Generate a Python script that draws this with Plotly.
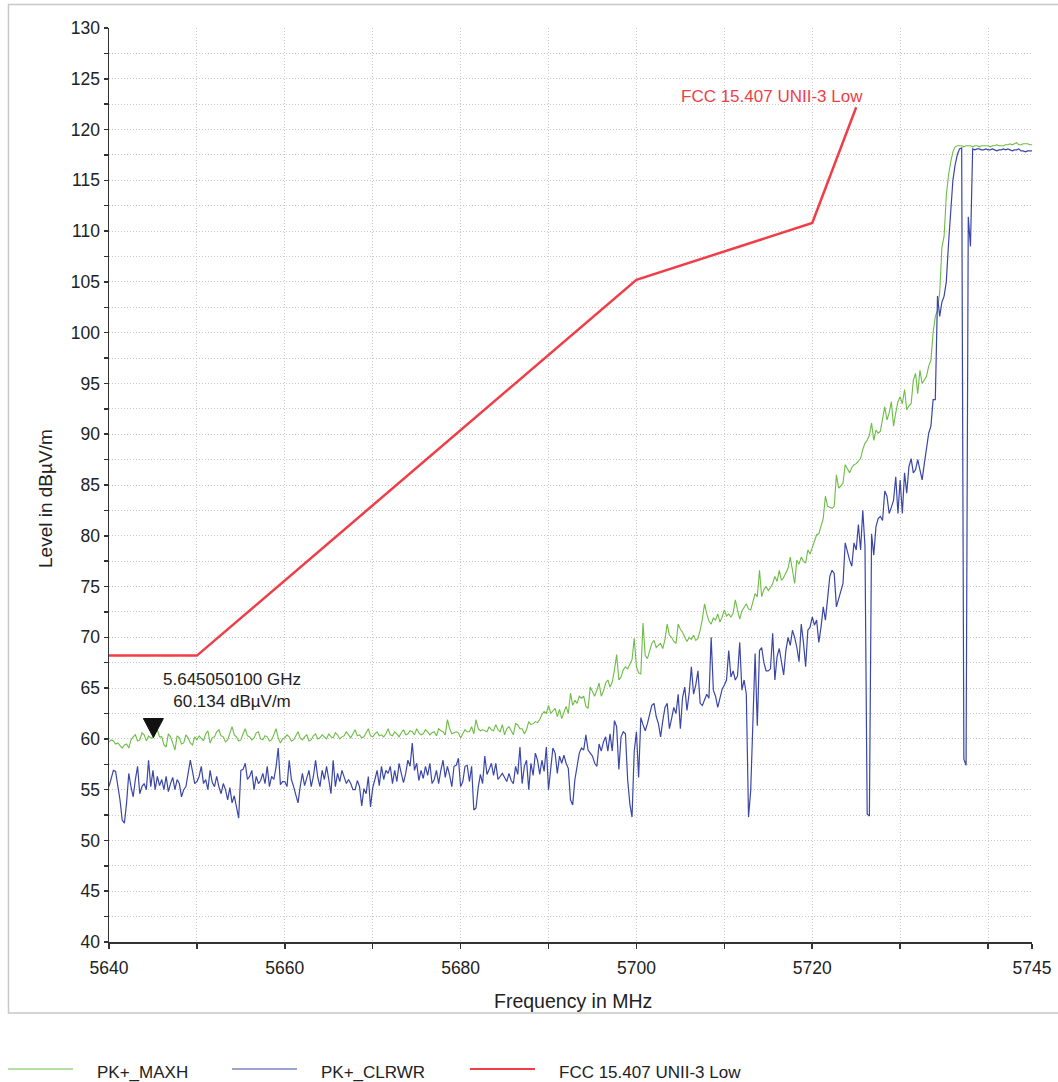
import plotly.graph_objects as go

# ---------------- data ----------------
START_MHZ = 5640.0
STEP_MHZ = 0.25

# PK+_MAXH (green), one row per 5 MHz (20 samples at 0.25 MHz)
maxh_rows = [
    [59.7, 59.9, 59.8, 59.5, 59.6, 59.3, 59.1, 59.4, 59.5, 59.1, 59.9, 60.2, 60.4, 59.8, 59.9, 60.6, 60.4, 59.8, 60.3, 60.1],
    [60.1, 60.6, 60.9, 60.2, 60.2, 59.4, 59.2, 60.5, 60.2, 59.6, 58.9, 60.3, 60.1, 59.5, 59.6, 60.4, 60.1, 59.6, 59.4, 60.2],
    [59.9, 60.3, 60.1, 59.8, 60.5, 60.8, 59.6, 60.1, 60.2, 60.7, 60.9, 60.3, 60.2, 59.7, 59.9, 60.6, 61.2, 60.4, 60.2, 59.8],
    [59.9, 60.5, 61.0, 60.3, 60.2, 59.9, 60.1, 60.6, 60.7, 60.0, 59.9, 60.3, 60.2, 59.8, 59.9, 60.4, 61.0, 60.1, 59.6, 60.0],
    [60.1, 60.4, 60.2, 59.8, 59.9, 60.3, 60.7, 60.1, 59.9, 60.2, 60.4, 59.8, 59.9, 60.3, 60.5, 60.0, 60.1, 60.4, 60.2, 60.0],
    [60.5, 60.2, 60.1, 60.6, 60.4, 60.0, 60.2, 60.3, 60.7, 60.4, 60.1, 60.5, 60.9, 60.3, 60.4, 60.1, 60.2, 60.6, 61.0, 60.3],
    [60.2, 60.5, 60.7, 60.3, 60.4, 60.2, 60.5, 61.0, 60.4, 60.3, 60.7, 60.5, 60.2, 60.6, 60.9, 60.4, 60.5, 60.8, 60.7, 60.4],
    [61.0, 60.6, 60.4, 60.5, 60.9, 60.7, 60.4, 60.6, 60.7, 60.3, 61.0, 60.8, 60.7, 60.4, 61.9, 61.0, 60.5, 60.6, 60.7, 60.6],
    [60.1, 60.5, 60.9, 60.7, 60.7, 61.2, 60.5, 61.9, 61.0, 60.8, 60.9, 60.8, 60.7, 61.2, 60.9, 60.8, 61.4, 60.9, 60.7, 61.4],
    [60.4, 61.0, 61.2, 60.8, 60.4, 61.5, 61.4, 61.0, 61.0, 60.5, 60.9, 61.7, 61.4, 61.5, 61.7, 61.6, 61.9, 62.4, 62.7, 62.5],
    [63.3, 62.5, 62.8, 63.0, 62.2, 62.9, 62.0, 62.6, 63.2, 62.5, 64.5, 63.3, 63.8, 63.5, 64.2, 64.0, 64.2, 63.2, 63.0, 65.1],
    [64.6, 64.2, 64.8, 65.5, 64.2, 64.7, 65.5, 65.8, 65.1, 65.6, 66.8, 68.3, 65.8, 66.1, 66.8, 67.1, 66.9, 67.3, 67.8, 69.9],
    [67.1, 66.5, 66.4, 71.4, 68.2, 67.9, 68.7, 69.4, 69.7, 69.0, 69.2, 69.4, 68.9, 69.8, 71.3, 70.2, 70.0, 69.6, 69.4, 71.3],
    [70.8, 70.5, 70.0, 69.6, 70.0, 69.8, 70.2, 69.7, 69.9, 70.7, 71.8, 73.3, 72.3, 71.6, 71.3, 71.9, 71.7, 72.3, 71.5, 72.0],
    [72.7, 72.1, 72.3, 72.0, 72.4, 73.7, 72.7, 71.8, 72.6, 73.0, 73.3, 72.8, 72.7, 73.5, 74.3, 74.0, 76.6, 74.0, 74.7, 75.0],
    [74.6, 74.9, 75.3, 76.0, 75.5, 76.6, 75.6, 75.9, 76.3, 76.8, 77.9, 76.4, 75.3, 77.6, 77.2, 77.9, 77.5, 77.3, 78.6, 78.2],
    [78.8, 79.3, 80.1, 80.2, 80.9, 81.7, 83.9, 82.9, 82.8, 82.7, 82.9, 86.0, 84.7, 84.9, 85.2, 87.0, 86.6, 86.2, 86.7, 87.0],
    [87.1, 87.3, 87.6, 88.5, 89.1, 89.4, 89.9, 91.1, 89.4, 90.4, 90.1, 90.3, 91.4, 92.7, 91.4, 92.1, 93.2, 90.8, 92.1, 93.2],
    [93.7, 93.0, 94.4, 92.4, 92.8, 93.0, 95.3, 96.0, 94.0, 96.3, 95.0, 95.4, 95.7, 96.7, 97.3, 100.0, 101.6, 102.2, 104.0, 108.4],
    [109.5, 113.5, 115.5, 116.8, 117.8, 118.3, 118.4, 118.4, 118.4, 118.3, 118.4, 118.4, 118.4, 118.3, 118.4, 118.4, 118.3, 118.4, 118.4, 118.4],
    [118.4, 118.3, 118.4, 118.4, 118.5, 118.4, 118.4, 118.4, 118.5, 118.5, 118.6, 118.5, 118.6, 118.7, 118.5, 118.5, 118.6, 118.6, 118.6, 118.5],
    [118.5],
]

# PK+_CLRWR (blue)
clrwr_rows = [
    [55.3, 56.2, 56.9, 56.8, 55.6, 54.0, 52.0, 51.7, 53.7, 56.6, 55.3, 54.3, 56.0, 57.3, 54.6, 55.3, 55.6, 55.0, 57.9, 55.3],
    [56.9, 55.0, 56.3, 55.4, 56.0, 55.0, 56.3, 54.8, 55.6, 56.2, 55.0, 56.0, 55.6, 54.3, 55.0, 55.3, 56.6, 57.9, 56.8, 55.6],
    [55.8, 56.3, 57.3, 55.6, 56.0, 55.0, 56.9, 55.7, 55.3, 56.3, 55.3, 54.6, 55.6, 55.0, 54.0, 55.2, 53.7, 54.4, 53.3, 52.2],
    [56.9, 57.0, 57.6, 56.0, 56.3, 56.9, 55.0, 56.3, 55.6, 55.9, 56.6, 55.6, 57.3, 55.3, 56.3, 56.0, 57.2, 59.1, 55.5, 55.8],
    [55.8, 55.3, 57.9, 56.0, 55.3, 54.5, 53.7, 55.3, 56.6, 55.4, 56.3, 56.9, 55.3, 56.3, 57.9, 56.2, 55.3, 56.9, 56.0, 57.3],
    [56.0, 54.6, 57.9, 55.3, 56.6, 55.8, 56.9, 56.3, 55.6, 56.0, 55.6, 55.0, 55.0, 55.9, 55.3, 53.4, 55.1, 54.6, 56.3, 53.3],
    [55.2, 56.0, 56.9, 55.4, 57.3, 56.0, 56.9, 56.6, 57.3, 55.6, 56.9, 55.8, 57.6, 56.6, 55.7, 56.6, 57.9, 57.3, 59.6, 56.9],
    [57.6, 55.9, 56.9, 56.1, 57.3, 56.4, 57.6, 55.6, 56.0, 56.9, 55.6, 56.9, 57.9, 56.2, 57.3, 56.4, 55.3, 57.3, 57.4, 58.1],
    [55.3, 55.8, 57.3, 57.4, 55.8, 57.3, 53.0, 53.2, 55.2, 56.5, 55.6, 58.3, 56.5, 57.0, 57.6, 56.4, 57.6, 56.0, 56.3, 56.6],
    [56.2, 55.8, 56.6, 55.9, 55.6, 57.3, 56.5, 59.2, 55.6, 57.3, 57.9, 55.0, 57.6, 56.4, 58.6, 57.9, 56.5, 57.9, 56.8, 59.2],
    [55.0, 56.9, 59.1, 58.6, 56.6, 58.3, 57.6, 58.4, 57.6, 57.1, 54.0, 53.5, 56.0, 57.3, 58.6, 59.1, 58.9, 60.4, 58.9, 58.6],
    [58.3, 57.6, 57.3, 59.5, 58.8, 59.7, 60.2, 58.8, 60.5, 58.8, 61.8, 61.2, 57.0, 60.2, 60.7, 60.5, 56.0, 53.6, 52.3, 58.8],
    [60.7, 56.2, 62.1, 61.4, 60.8, 61.5, 62.4, 63.3, 63.5, 62.2, 61.5, 60.2, 61.8, 63.1, 63.5, 61.0, 62.0, 63.1, 62.5, 64.4],
    [61.0, 64.1, 65.1, 62.8, 64.5, 67.1, 64.4, 65.3, 66.7, 63.5, 63.3, 63.8, 64.4, 64.0, 70.0, 64.8, 64.2, 63.1, 64.0, 64.9],
    [65.3, 65.8, 68.7, 66.1, 66.7, 65.8, 66.2, 69.5, 64.8, 65.8, 64.4, 52.3, 54.9, 62.0, 68.4, 61.3, 68.7, 69.0, 67.5, 66.7],
    [66.7, 66.9, 70.4, 65.8, 68.1, 68.9, 67.5, 66.3, 68.7, 70.0, 69.2, 70.7, 70.0, 69.0, 67.6, 71.3, 69.5, 67.1, 70.7, 71.0],
    [72.0, 71.2, 71.7, 69.5, 71.0, 73.0, 71.7, 74.0, 76.0, 76.6, 76.3, 73.0, 73.8, 74.5, 75.3, 79.3, 78.4, 77.6, 77.0, 79.3],
    [78.6, 81.1, 78.6, 82.5, 79.0, 52.6, 52.4, 80.2, 78.1, 80.9, 81.7, 81.9, 81.5, 84.4, 83.9, 82.2, 82.8, 83.5, 85.8, 82.2],
    [85.5, 82.2, 86.2, 84.2, 86.8, 87.6, 86.2, 86.5, 87.5, 86.4, 85.5, 87.1, 88.9, 90.1, 90.8, 93.4, 93.4, 103.6, 101.6, 103.0],
    [103.6, 105.0, 108.7, 112.4, 115.0, 116.5, 117.5, 118.1, 118.2, 58.0, 57.4, 111.4, 108.5, 118.1, 118.0, 118.1, 118.1, 118.0, 118.0, 118.1],
    [118.0, 118.0, 118.1, 118.0, 117.9, 118.0, 118.0, 118.1, 118.0, 118.1, 118.0, 117.9, 118.0, 118.0, 118.1, 117.9, 117.9, 117.8, 117.9, 117.9],
    [117.9],
]

# FCC 15.407 UNII-3 Low limit line
limit_freq = [5640, 5650, 5700, 5720, 5725]
limit_level = [68.2, 68.2, 105.2, 110.8, 122.2]

# marker
marker_freq = 5645.0501
marker_level = 60.134
marker_text = "5.645050100 GHz<br>60.134 dBµV/m"

x_tick_vals = [5640, 5650, 5660, 5670, 5680, 5690, 5700, 5710, 5720, 5730, 5740, 5745]
x_tick_text = ["5640", "", "5660", "", "5680", "", "5700", "", "5720", "", "", "5745"]

maxh = [v for row in maxh_rows for v in row]
clrwr = [v for row in clrwr_rows for v in row]
freq = [START_MHZ + STEP_MHZ * i for i in range(len(maxh))]

# ---------------- style ----------------
GREEN = "#6dbd45"
BLUE = "#3b47a6"
RED = "#ef3e48"
FONT = "Liberation Sans, Arial, sans-serif"
TXT = "#222222"
AX = "#333333"
GRID = "#c8c8c8"

W, H = 1058, 1082
L, R, T, B = 109, 1032, 28, 942
PW, PH = R - L, B - T


def px(xw):
    return (xw - L) / PW


def py(yw):
    return (B - yw) / PH


fig = go.Figure()
fig.add_trace(go.Scatter(x=freq, y=maxh, mode="lines", name="PK+_MAXH",
                         line=dict(color=GREEN, width=1.1), showlegend=False))
fig.add_trace(go.Scatter(x=freq, y=clrwr, mode="lines", name="PK+_CLRWR",
                         line=dict(color=BLUE, width=1.2), showlegend=False))
fig.add_trace(go.Scatter(x=limit_freq, y=limit_level, mode="lines", name="FCC 15.407 UNII-3 Low",
                         line=dict(color=RED, width=2.5), showlegend=False))

shapes = []
# outer frame
shapes.append(dict(type="rect", xref="paper", yref="paper",
                   x0=px(8.5), x1=px(1066), y0=py(1013), y1=py(4.5),
                   line=dict(color="#c8c8c8", width=1.5), fillcolor="rgba(0,0,0,0)", layer="below"))
# marker triangle (tip at the marker position)
shapes.append(dict(type="path", xref="x", yref="y", xsizemode="pixel", ysizemode="pixel",
                   xanchor=marker_freq, yanchor=marker_level,
                   path="M -10 19 L 10 19 L 0 0 Z",
                   fillcolor="#111111", line=dict(color="#111111", width=1)))
# legend keys
legend_items = [("PK+_MAXH", GREEN, 1.2, 8, 73, 95),
                ("PK+_CLRWR", BLUE, 1.2, 232, 297, 319),
                ("FCC 15.407 UNII-3 Low", RED, 2.0, 470, 535, 557)]
annotations = []
for name, col, wd, lx0, lx1, tx in legend_items:
    shapes.append(dict(type="line", xref="paper", yref="paper",
                       x0=px(lx0), x1=px(lx1), y0=py(1069), y1=py(1069),
                       line=dict(color=col, width=wd)))
    annotations.append(dict(xref="paper", yref="paper", x=px(tx), y=py(1072),
                            xanchor="left", yanchor="middle", showarrow=False,
                            text=name, font=dict(family=FONT, size=17, color=TXT)))

# marker label
annotations.append(dict(xref="x", yref="y", x=marker_freq, y=marker_level,
                        xshift=79, yshift=47, xanchor="center", yanchor="middle",
                        showarrow=False, text=marker_text, align="center",
                        font=dict(family=FONT, size=17, color=TXT)))
# limit label
annotations.append(dict(xref="x", yref="y", x=limit_freq[-1], y=limit_level[-1],
                        xshift=9, yshift=11, xanchor="right", yanchor="middle",
                        showarrow=False, text="FCC 15.407 UNII-3 Low",
                        font=dict(family=FONT, size=17, color=RED)))
# axis titles
annotations.append(dict(xref="paper", yref="paper", x=px(573), y=py(1001),
                        xanchor="center", yanchor="middle", showarrow=False,
                        text="Frequency in MHz", font=dict(family=FONT, size=19.5, color=TXT)))
annotations.append(dict(xref="paper", yref="paper", x=px(45), y=py(499),
                        xanchor="center", yanchor="middle", showarrow=False, textangle=-90,
                        text="Level in dBµV/m", font=dict(family=FONT, size=19, color=TXT)))

fig.update_layout(
    width=W, height=H,
    margin=dict(l=L, r=W - R, t=T, b=H - B, pad=0, autoexpand=False),
    paper_bgcolor="white", plot_bgcolor="white",
    font=dict(family=FONT, size=17, color=TXT),
    shapes=shapes, annotations=annotations,
    showlegend=False,
)
fig.update_xaxes(
    range=[5640, 5745], tickmode="array", tickvals=x_tick_vals, ticktext=x_tick_text,
    showline=True, linecolor=AX, linewidth=1.5, mirror=False, automargin=False,
    ticks="outside", ticklen=5, tickwidth=1.5, tickcolor=AX,
    showgrid=True, gridcolor=GRID, gridwidth=1, griddash="1px,2px",
    zeroline=False, ticklabelstandoff=4,
    tickfont=dict(family=FONT, size=17.5, color=TXT),
)
fig.update_yaxes(
    range=[40, 130], tickmode="linear", tick0=40, dtick=5,
    showline=True, linecolor=AX, linewidth=1.5, mirror=False, automargin=False,
    ticks="outside", ticklen=4, tickwidth=1.5, tickcolor=AX,
    showgrid=True, gridcolor=GRID, gridwidth=1, griddash="1px,2px",
    minor=dict(dtick=2.5, tick0=40, ticks="outside", ticklen=4, tickwidth=1.5, tickcolor=AX,
               showgrid=True, gridcolor=GRID, gridwidth=1, griddash="1px,2px"),
    zeroline=False,
    tickfont=dict(family=FONT, size=17.5, color=TXT),
)

# remove the default 8px page margin so the figure sits at the window origin
fig.write_html("out.html",
               config={"displayModeBar": False, "staticPlot": True},
               post_script="document.body.style.margin='0';document.body.style.overflow='hidden';")
